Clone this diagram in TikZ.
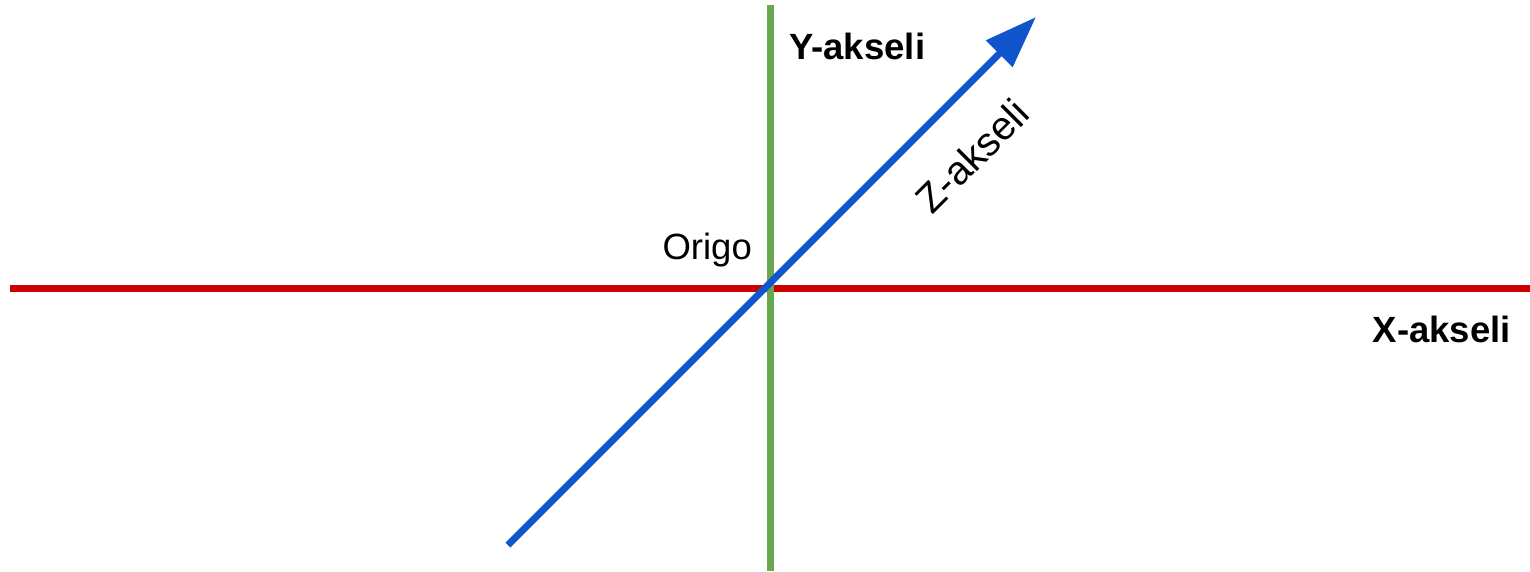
\documentclass[tikz,border=0pt]{standalone}
\usepackage{fontspec}
\setmainfont{Liberation Sans}
\usetikzlibrary{arrows.meta}
\definecolor{xred}{HTML}{CC0000}
\definecolor{ygreen}{HTML}{6AA84F}
\definecolor{zblue}{HTML}{1155CC}
\begin{document}
\begin{tikzpicture}[x=1pt,y=-1pt,
  axis/.style={line width=7pt},
  lbl/.style={inner sep=0pt, font=\fontsize{36.5}{40}\selectfont\bfseries}]
\useasboundingbox (0,0) rectangle (1530,571);
\coordinate (xl) at (10,288);
\coordinate (xr) at (1530,288);
\coordinate (yt) at (770,5);
\coordinate (yb) at (770,571);
\coordinate (zs) at (508,545);
\coordinate (ze) at (1036,17);
\draw[axis, xred] (xl) -- (xr);
\draw[axis, ygreen] (yt) -- (yb);
\draw[axis, zblue, -{Triangle[length=52pt,width=36pt]}] (zs) -- (ze);
\node[lbl, anchor=west] (ylab) at (789,46) {Y-akseli};
\node[lbl, anchor=east] (xlab) at (1511,329) {X-akseli};
\node[inner sep=0pt, font=\fontsize{36.5}{40}\selectfont, anchor=east] (orig) at (752,250) {Origo};
\node[inner sep=0pt, font=\fontsize{40}{44}\selectfont, rotate=45] (zlab) at (972,156) {Z-akseli};
\end{tikzpicture}
\end{document}
